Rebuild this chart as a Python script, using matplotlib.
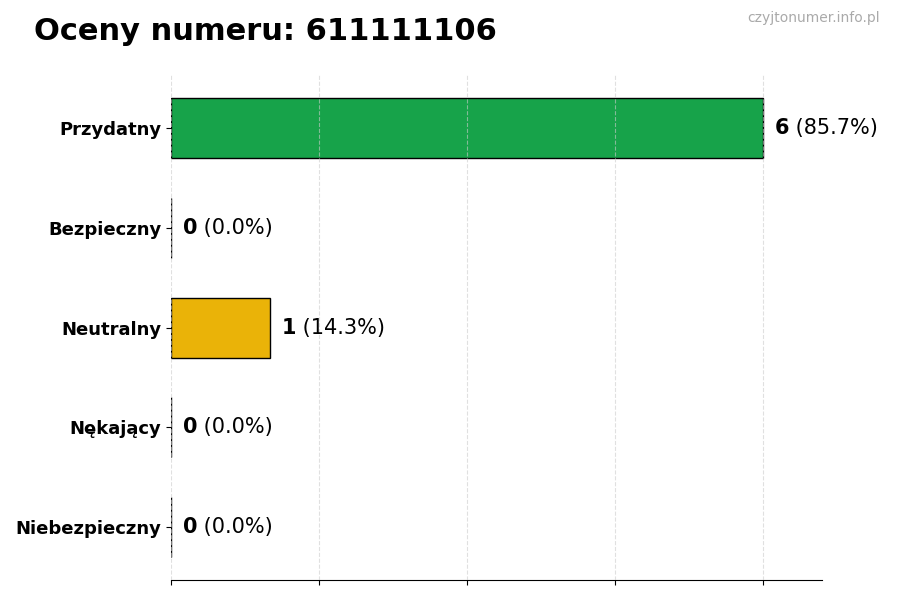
import matplotlib
matplotlib.use("Agg")
import matplotlib.pyplot as plt

# dane z wykresu
kategorie = ["Przydatny", "Bezpieczny", "Neutralny", "Nękający", "Niebezpieczny"]
glosy = [6, 0, 1, 0, 0]
kolory = ["#17a34a", "#17a34a", "#eab308", "#dc2626", "#dc2626"]
numer = "611111106"

suma = sum(glosy)
pozycje = list(range(len(kategorie)))[::-1]

fig = plt.figure(figsize=(9, 6), dpi=100)
ax = fig.add_axes([0.19, 0.033, 0.723, 0.842])

ax.barh(pozycje, glosy, height=0.6, color=kolory, edgecolor="black", linewidth=1, zorder=2)

ax.set_xlim(0, max(glosy) * 1.1)
ax.set_ylim(-0.53, len(kategorie) - 1 + 0.53)
ax.set_xticks([0, 1.5, 3, 4.5, 6])
ax.set_xticklabels([])
ax.set_yticks(pozycje)
ax.set_yticklabels(kategorie, fontsize=13, fontweight="bold")

ax.grid(axis="x", linestyle="--", color="#cccccc", linewidth=0.8, alpha=0.6, zorder=3)
ax.set_axisbelow(False)
for s in ["top", "right", "left"]:
    ax.spines[s].set_visible(False)

# etykiety wartości
for y, v in zip(pozycje, glosy):
    proc = v / suma * 100
    t = ax.text(v + 0.12, y, str(v), fontsize=15, fontweight="bold", va="center", ha="left")
    ax.annotate(f" ({proc:.1f}%)", xy=(1, 0.5), xycoords=t, va="center", ha="left", fontsize=15)

fig.text(0.038, 0.947, f"Oceny numeru: {numer}", fontsize=22, fontweight="bold", va="center", ha="left")
fig.text(0.978, 0.97, "czyjtonumer.info.pl", fontsize=10, color="#aaaaaa", va="center", ha="right")

fig.savefig("out.png", dpi=100)
